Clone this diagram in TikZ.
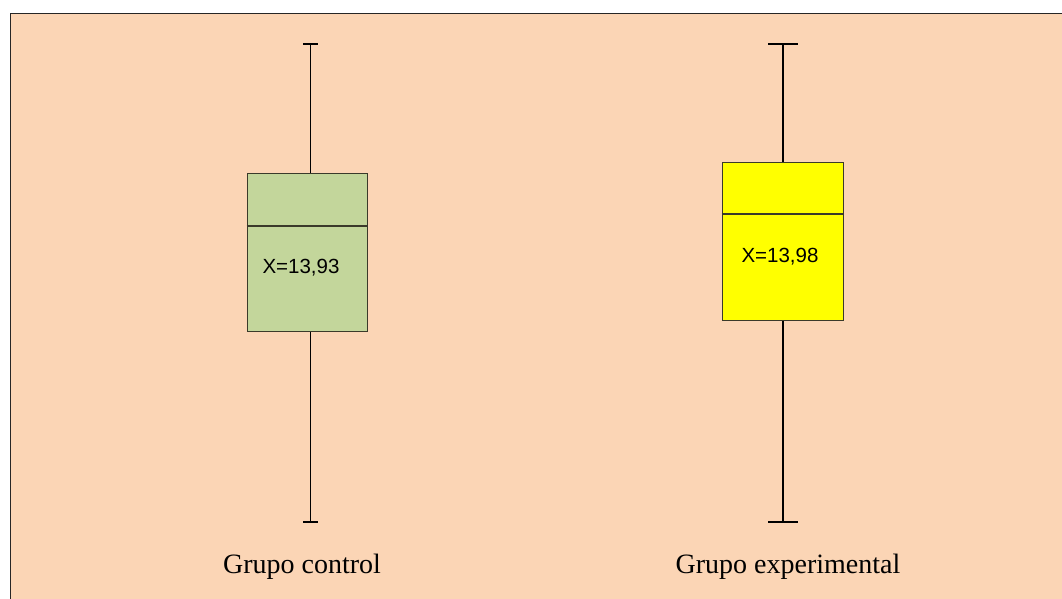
\documentclass[tikz,border=0pt]{standalone}
\usepackage{fontspec}
\setmainfont{Liberation Serif}
\newfontfamily\arialfont{Liberation Sans}
\definecolor{bgpeach}{HTML}{FBD5B5}
\definecolor{boxgreen}{HTML}{C3D69B}
\definecolor{boxyellow}{HTML}{FFFF00}
\definecolor{boxedge}{HTML}{3A3A2A}
\tikzset{
  frame/.style={draw=black!85, line width=1pt},
  quartbox/.style={draw=boxedge, line width=1pt, rectangle, inner sep=0pt},
  whisker/.style={draw=black, line width=1.1pt},
  thickwhisker/.style={draw=black, line width=1.8pt},
  capline/.style={draw=black, line width=1.4pt},
  median/.style={draw=boxedge, line width=1.2pt},
  meanlabel/.style={font=\arialfont\fontsize{20.5}{24}\selectfont, inner sep=0pt},
  grouplabel/.style={font=\fontsize{28}{32}\selectfont, inner sep=0pt, anchor=base}
}
\begin{document}
\begin{tikzpicture}[x=1pt,y=-1pt]
\useasboundingbox (0,0) rectangle (1062,599);
% plot area
\fill[bgpeach] (10,14) rectangle (1062,599);
\draw[frame] (1062,14) -- (10,14) -- (10,599);

% control group
\node[quartbox, fill=boxgreen, minimum width=120pt, minimum height=158pt] (cbox) at (307,252) {};
\coordinate (ctop) at (310.5,44);
\coordinate (cbot) at (310.5,522);
\coordinate (cmed) at (307,226);
\draw[whisker] (ctop) -- (ctop |- cbox.north);
\draw[whisker] (cbot) -- (cbot |- cbox.south);
\draw[capline] ([xshift=-7.5pt]ctop) -- ([xshift=7.5pt]ctop);
\draw[capline] ([xshift=-7.5pt]cbot) -- ([xshift=7.5pt]cbot);
\draw[median] (cbox.west |- cmed) -- (cbox.east |- cmed);
\node[meanlabel] (cmean) at (301,268) {X=13,93};

% experimental group
\node[quartbox, fill=boxyellow, minimum width=121pt, minimum height=158pt] (ebox) at (782.5,241) {};
\coordinate (etop) at (783,44);
\coordinate (ebot) at (783,522);
\coordinate (emed) at (782.5,214);
\draw[thickwhisker] (etop) -- (etop |- ebox.north);
\draw[thickwhisker] (ebot) -- (ebot |- ebox.south);
\draw[thickwhisker] ([xshift=-15pt]etop) -- ([xshift=15pt]etop);
\draw[thickwhisker] ([xshift=-15pt]ebot) -- ([xshift=15pt]ebot);
\draw[median] (ebox.west |- emed) -- (ebox.east |- emed);
\node[meanlabel] (emean) at (780,257) {X=13,98};

% group labels
\node[grouplabel] (clabel) at (302,573) {Grupo control};
\node[grouplabel] (elabel) at (788,573) {Grupo experimental};
\end{tikzpicture}
\end{document}
